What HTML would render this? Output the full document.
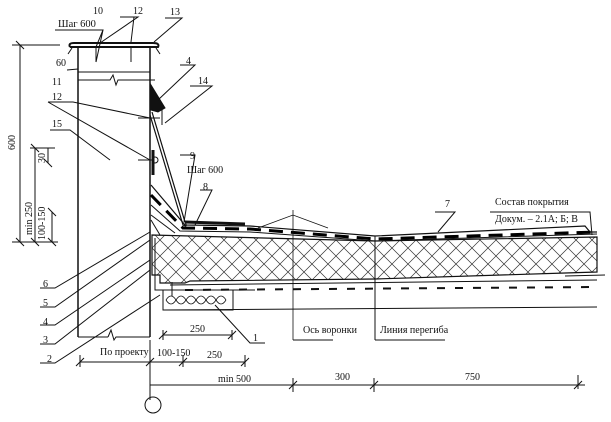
<!DOCTYPE html>
<html><head><meta charset="utf-8"><style>
html,body{margin:0;padding:0;background:#fff}
svg{display:block}
text{font-family:"Liberation Serif","DejaVu Serif",serif;fill:#111}
</style></head><body>
<svg width="611" height="422" viewBox="0 0 611 422" xmlns="http://www.w3.org/2000/svg">
<defs>
<pattern id="x" width="16" height="16" patternUnits="userSpaceOnUse">
<path d="M0 0L16 16M16 0L0 16" stroke="#333" stroke-width="0.7"/>
</pattern>
<clipPath id="ins"><polygon points="152,235 375,241 597,237 597,272 565,273 375,279 190,281 185,283 160,283 160,275 152,275"/></clipPath>
</defs>
<g stroke="#111" fill="none" stroke-width="1">
<line x1="78" y1="47" x2="78" y2="337" stroke-width="1.5"/>
<line x1="150" y1="47" x2="150" y2="337" stroke-width="1.5"/>
<path d="M70 47 Q68 43 74 43 L153 43 Q160 43 158 47 L70 47" stroke-width="2"/>
<path d="M72 48 L68 54 M156 48 L160 54"/>
<line x1="96" y1="47" x2="96" y2="62"/><line x1="131" y1="47" x2="131" y2="62"/>
<line x1="78" y1="72" x2="150" y2="72"/>
<path d="M78 80 L110 80 L113 75 L116 85 L118 80 L155 80"/>
<line x1="67" y1="70" x2="78" y2="69"/>
<line x1="78" y1="337" x2="108" y2="337"/><path d="M108 337 L111 330 L114 340 L116 337 L150 337"/>
<polygon points="151,85 165,108 158,112 151,110" fill="#111"/>
<line x1="162" y1="105" x2="162" y2="125"/>
<line x1="138" y1="118" x2="160" y2="118"/>
<line x1="153" y1="150" x2="153" y2="175" stroke-width="3"/>
<circle cx="155" cy="160" r="3"/>
<line x1="138" y1="160" x2="152" y2="160"/>
<path d="M152 112 L185 222 Q188 228 183 225 L150 115" stroke-width="1.2"/>
<path d="M151 185 L185 225 L250 226 L375 236 L585 226 L590 232 L597 232" stroke-width="1.2"/>
<path d="M151 195 L183 228 L250 229 L375 239 L597 232" stroke="#000" stroke-width="3" stroke-dasharray="14 8"/>
<path d="M151 205 L180 231 L250 232 L375 241 L597 234" stroke-width="1"/>
<path d="M151 215 L175 233" />
<path d="M185 222 L245 224" stroke-width="3"/>
<line x1="151" y1="220" x2="160" y2="235"/>
<rect x="150" y="230" width="450" height="60" fill="url(#x)" clip-path="url(#ins)" stroke="none"/>
<polygon points="152,235 375,241 597,237 597,272 565,273 375,279 190,281 185,283 160,283 160,275 152,275" stroke-width="1.2"/>
<path d="M155 238 L155 290 L255 290 M565 276 L605 275"/>
<line x1="170" y1="285" x2="597" y2="280" stroke-width="1"/>
<line x1="185" y1="290" x2="597" y2="287" stroke-dasharray="8 10" stroke-width="2"/>
<rect x="163" y="290" width="70" height="20"/>
<path d="M163 310 L597 307" />
<path d="M166 300 q5 -8 10 0 q5 -8 10 0 q5 -8 10 0 q5 -8 10 0 q5 -8 10 0 q5 -8 10 0" stroke-width="0.8"/>
<path d="M166 300 q5 8 10 0 q5 8 10 0 q5 8 10 0 q5 8 10 0 q5 8 10 0 q5 8 10 0" stroke-width="0.8"/>
<line x1="172" y1="282" x2="172" y2="296"/>
<path d="M258 228 L293 215 L328 228 M293 210 L293 340" stroke-width="0.8"/>
<line x1="375" y1="236" x2="375" y2="340"/>
<path d="M293 340 L333 340 M375 340 L445 340"/>
<line x1="20" y1="45" x2="20" y2="242"/><line x1="12" y1="45" x2="60" y2="45"/>
<line x1="35" y1="148" x2="35" y2="242"/><line x1="48" y1="148" x2="48" y2="163"/>
<line x1="30" y1="148" x2="55" y2="148"/>
<line x1="52" y1="212" x2="52" y2="242"/>
<line x1="12" y1="242" x2="58" y2="242"/>
<path d="M16 238l8 8M31 238l8 8M48 238l8 8M16 41l8 8M31 144l8 8M44 159l8 8M48 208l8 8"/>
<line x1="163" y1="335" x2="232" y2="335"/>
<path d="M163 330v10M232 330v10M159 339l8-8M228 339l8-8"/>
<line x1="80" y1="362" x2="245" y2="362"/>
<path d="M80 355v12M150 340v60M183 355v12M245 355v12M76 366l8-8M146 366l8-8M179 366l8-8M241 366l8-8"/>
<line x1="150" y1="385" x2="585" y2="385"/>
<path d="M293 378v14M374 378v14M578 375v14M289 389l8-8M370 389l8-8M574 389l8-8"/>
<circle cx="153" cy="405" r="8"/>
<path d="M55 30L103 30L96 47M103 30L96 62"/>
<path d="M120 17L138 17L100 43M134 17L131 42"/>
<path d="M165 18L182 18L154 42"/>
<path d="M48 102L73 102L150 118M48 102L150 160"/>
<path d="M50 130L70 130L110 160"/>
<path d="M180 65L195 65L158 100"/>
<path d="M190 86L212 86L165 123"/>
<path d="M180 155L195 155L184 222"/>
<path d="M200 190L212 190L195 225"/>
<path d="M435 212L455 212L438 232"/>
<path d="M490 212L590 212L592 235"/>
<path d="M40 288L55 288L150 232M40 307L55 307L150 240M40 325L55 325L150 260M40 344L55 344L150 270M40 363L55 363L160 295"/>
<path d="M265 343L250 343L215 305"/>
</g>
<g font-size="10">
<text x="93" y="14">10</text><text x="133" y="14">12</text><text x="170" y="15">13</text>
<text x="58" y="27" font-size="10.5">Шаг 600</text>
<text x="56" y="66">60</text>
<text x="52" y="85">11</text><text x="52" y="100">12</text>
<text x="52" y="127">15</text>
<text x="186" y="64">4</text><text x="198" y="84">14</text>
<text x="190" y="159">9</text><text x="187" y="173">Шаг 600</text>
<text x="203" y="190">8</text>
<text x="445" y="207">7</text>
<text x="495" y="205">Состав покрытия</text>
<text x="495" y="222">Докум.  – 2.1А; Б; В</text>
<text x="43" y="287">6</text><text x="43" y="306">5</text><text x="43" y="325">4</text><text x="43" y="343">3</text><text x="47" y="362">2</text>
<text x="253" y="341">1</text>
<text x="190" y="332">250</text>
<text x="100" y="355">По проекту</text>
<text x="157" y="356">100-150</text><text x="207" y="358">250</text>
<text x="218" y="382">min 500</text><text x="335" y="380">300</text><text x="465" y="380">750</text>
<text x="303" y="333">Ось воронки</text><text x="380" y="333">Линия перегиба</text>
<text transform="translate(15,150) rotate(-90)">600</text>
<text transform="translate(32,235) rotate(-90)">min 250</text>
<text transform="translate(45,163) rotate(-90)">30</text>
<text transform="translate(45,240) rotate(-90)">100-150</text>
</g>
</svg>
</body></html>
